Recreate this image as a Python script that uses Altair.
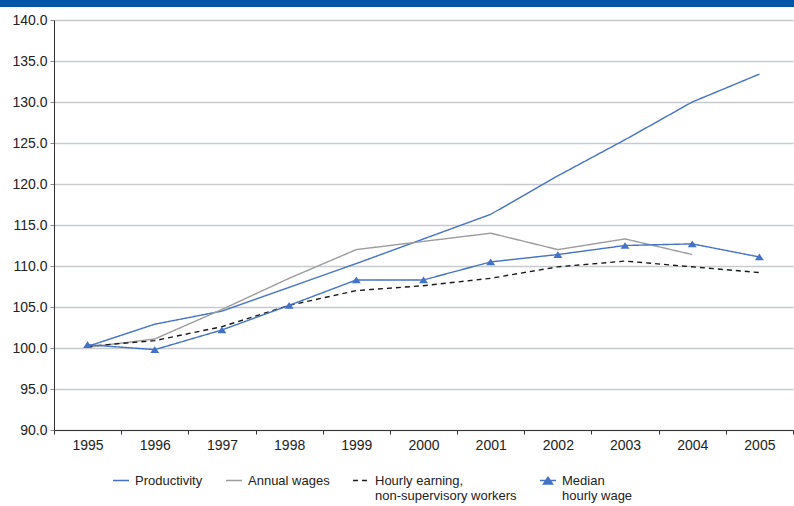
import altair as alt
import pandas as pd

years = ["1995", "1996", "1997", "1998", "1999", "2000", "2001", "2002", "2003", "2004", "2005"]
productivity = [100.2, 102.9, 104.5, 107.4, 110.3, 113.3, 116.3, 121.0, 125.4, 130.0, 133.4]
annual_wages = [100.1, 101.1, 104.7, 108.5, 112.0, 113.0, 114.0, 112.0, 113.3, 111.4, None]
hourly_earning = [100.2, 100.9, 102.6, 105.2, 107.0, 107.6, 108.5, 109.9, 110.6, 109.9, 109.2]
median_wage = [100.4, 99.8, 102.2, 105.2, 108.3, 108.3, 110.5, 111.4, 112.5, 112.7, 111.1]

# "|" marks the line break in the legend label (single-line labels get an empty 2nd line)
series_names = [
    "Productivity|",
    "Annual wages|",
    "Hourly earning,|non-supervisory workers",
    "Median|hourly wage",
]
series_values = [productivity, annual_wages, hourly_earning, median_wage]
colors = ["#4472C4", "#9C9C9C", "#1A1A1A", "#4472C4"]
dashes = [[1, 0], [1, 0], [5, 4], [1, 0]]
# legend/point symbols: a horizontal stroke (and a triangle), drawn a little low so the
# stroke lines up with the first line of the top-aligned legend labels
line_sym = "M-1,0.7H1"
tri_sym = "M-1,0.7H1M-0.56,1.12L0,0.28L0.56,1.12Z"
shapes = [line_sym, line_sym, line_sym, tri_sym]
y_ticks = [90, 95, 100, 105, 110, 115, 120, 125, 130, 135, 140]

rows = []
for name, vals in zip(series_names, series_values):
    for yr, v in zip(years, vals):
        if v is not None:
            rows.append({"year": yr, "value": v, "series": name})
df = pd.DataFrame(rows)

FONT = "Liberation Sans, Arial, sans-serif"

legend = alt.Legend(
    title=None,
    orient="none",
    legendX=58,
    legendY=446,
    direction="horizontal",
    columns=4,
    columnPadding=20,
    gridAlign="each",
    labelFont=FONT,
    labelFontSize=13,
    labelColor="#222222",
    labelExpr="split(datum.label, '|')",
    labelBaseline="top",
    symbolSize=256,
    symbolStrokeWidth=1.5,
    symbolFillColor="#4472C4",
    labelOffset=5,
)

x_enc = alt.X(
    "year:O",
    bandPosition=0.5,
    scale=alt.Scale(type="band", paddingInner=0, paddingOuter=0, domain=years),
    axis=alt.Axis(
        title=None,
        labelAngle=0,
        tickBand="extent",
        tickSize=4,
        labelPadding=4,
        domainColor="#333333",
        tickColor="#333333",
        labelFont=FONT,
        labelFontSize=14,
        labelColor="#222222",
        grid=False,
    ),
)
y_enc = alt.Y(
    "value:Q",
    scale=alt.Scale(domain=[90, 140], nice=False, zero=False),
    axis=alt.Axis(
        title=None,
        values=y_ticks,
        format=".1f",
        tickSize=4,
        labelPadding=3,
        domainColor="#333333",
        tickColor="#888888",
        gridColor="#C8CBCE",
        gridWidth=1.5,
        labelFont=FONT,
        labelFontSize=14,
        labelColor="#222222",
    ),
)
color_enc = alt.Color(
    "series:N",
    scale=alt.Scale(domain=series_names, range=colors),
    legend=legend,
)

lines = alt.Chart(df).mark_line(strokeWidth=1.4).encode(
    x=x_enc,
    y=y_enc,
    color=color_enc,
    strokeDash=alt.StrokeDash(
        "series:N", scale=alt.Scale(domain=series_names, range=dashes), legend=legend
    ),
)

points = (
    alt.Chart(df)
    .transform_filter(alt.datum.series == series_names[3])
    .mark_point(filled=True, size=256, opacity=1, yOffset=-5.6)
    .encode(
        x=x_enc,
        y=y_enc,
        color=color_enc,
        shape=alt.Shape(
            "series:N",
            scale=alt.Scale(domain=series_names, range=shapes),
            legend=legend,
        ),
    )
)

top_bar = alt.Chart(pd.DataFrame({"a": [0]})).mark_rect(color="#0055A4").encode(
    x=alt.value(-54), x2=alt.value(745), y=alt.value(-20), y2=alt.value(-13)
)

chart = (
    alt.layer(top_bar, lines, points)
    .properties(
        width=739,
        height=410,
        autosize=alt.AutoSizeParams(type="none"),
        padding={"left": 54, "top": 20, "right": 1, "bottom": 76},
        background="white",
    )
    .configure_view(stroke=None)
)

chart.save("out.html", embed_options={"renderer": "svg", "actions": False})
